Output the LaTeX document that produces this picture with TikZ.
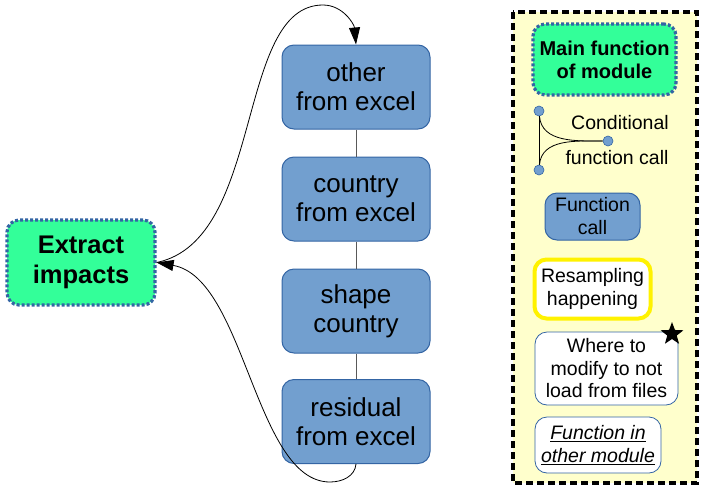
\documentclass[tikz,border=0pt]{standalone}
\usepackage{fontspec}
\setmainfont{Liberation Sans}
\usetikzlibrary{arrows.meta,shapes.geometric}
\definecolor{mainfill}{HTML}{33FF99}
\definecolor{callfill}{HTML}{729FCF}
\definecolor{calldraw}{HTML}{3465A4}
\definecolor{legendfill}{HTML}{FFFFCC}
\tikzset{
>={Triangle[length=17pt,width=11pt]},
main fun/.style={rectangle,rounded corners=12pt,fill=mainfill,draw=calldraw,line width=3.2pt,dash pattern=on 3pt off 2pt,align=center},
call box/.style={rectangle,rounded corners=12pt,fill=callfill,draw=calldraw,line width=1pt,align=center,inner sep=0pt},
legend box/.style={rectangle,rounded corners=12pt,fill=white,draw=calldraw,line width=0.8pt,align=center,inner sep=0pt},
cond dot/.style={circle,fill=callfill,draw=calldraw,line width=0.6pt,minimum size=10pt,inner sep=0pt},
freccia/.style={->,line width=0.8pt},
link/.style={draw=black!65,line width=0.8pt}}

\begin{document}
\begin{tikzpicture}[x=1pt,y=-1pt]
\useasboundingbox (0,0) rectangle (704,493);

% legend frame
\draw[fill=legendfill,line width=4pt,dash pattern=on 7pt off 4pt] (513,12) rectangle (697,483);

% main chain
\node[main fun,minimum width=148pt,minimum height=85pt,font=\bfseries\fontsize{25.5}{30}\selectfont] (ext) at (81,262.5) {\raisebox{-3pt}{Extract}\\\raisebox{-3pt}{impacts}};
\node[call box,minimum width=148pt,minimum height=84pt,font=\fontsize{26}{29}\selectfont] (oth) at (356,87) {other\\from excel};
\node[call box,minimum width=148pt,minimum height=84pt,font=\fontsize{26}{29}\selectfont] (cou) at (356,199) {country\\from excel};
\node[call box,minimum width=148pt,minimum height=84pt,font=\fontsize{26}{29}\selectfont] (shp) at (356,311) {shape\\country};
\node[call box,minimum width=148pt,minimum height=84pt,font=\fontsize{26}{29}\selectfont] (res) at (356,421.5) {residual\\from excel};

\path[link] (oth) -- (cou);
\path[link] (cou) -- (shp);
\path[link] (shp) -- (res);

\draw[freccia] (ext.east) .. controls (265,240) and (235,5) .. (323,5) to[out=0,in=95] (oth.north);
\draw[freccia] (res.south) to[out=-95,in=0] (330,482) .. controls (255,482) and (245,278) .. (ext.east);

% legend
\node[main fun,minimum width=143pt,minimum height=71pt,font=\bfseries\fontsize{20}{23}\selectfont] (lmain) at (604.5,59.5) {Main function\\of module};

\node[cond dot] (ct) at (539,111) {};
\node[cond dot] (cb) at (539,170) {};
\node[cond dot] (cr) at (608,141) {};
\draw[line width=0.8pt] (ct) -- (cb);
\draw[line width=0.8pt] (ct) to[out=-85,in=180] (cr);
\draw[line width=0.8pt] (cb) to[out=85,in=180] (cr);
\node[font=\fontsize{19.5}{22}\selectfont] (ctop) at (620,123) {Conditional};
\node[font=\fontsize{19.5}{22}\selectfont] (cbot) at (617,158) {function call};

\node[call box,minimum width=95pt,minimum height=47pt,font=\fontsize{19.5}{23}\selectfont] (lcall) at (592.5,216.5) {Function\\call};
\node[legend box,draw=yellow,line width=4pt,minimum width=116pt,minimum height=59pt,font=\fontsize{19.5}{23}\selectfont] (lres) at (592.5,289) {Resampling\\happening};
\node[legend box,minimum width=143pt,minimum height=73pt,font=\fontsize{19.5}{22.5}\selectfont] (lmod) at (606.5,368.5) {Where to\\modify to not\\load from files};
\node[star,star points=5,star point ratio=2.4,fill=black,minimum size=24pt,inner sep=0pt] (lstar) at (672,334) {};
\node[legend box,minimum width=126pt,minimum height=56pt,font=\itshape\fontsize{19.5}{23}\selectfont] (lother) at (598,445) {\underline{Function in}\\\underline{other module}};

\end{tikzpicture}
\end{document}
